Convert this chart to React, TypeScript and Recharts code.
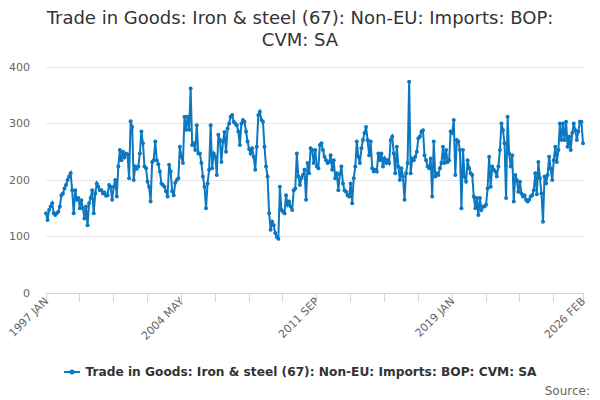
import { LineChart, Line, XAxis, YAxis, CartesianGrid } from "recharts";

const years = [
  1997, 1998, 1999, 2000, 2001, 2002, 2003, 2004, 2005, 2006, 2007, 2008, 2009, 2010, 2011,
  2012, 2013, 2014, 2015, 2016, 2017, 2018, 2019, 2020, 2021, 2022, 2023, 2024, 2025, 2026,
];
const months = ["JAN", "FEB", "MAR", "APR", "MAY", "JUN", "JUL", "AUG", "SEP", "OCT", "NOV", "DEC"];

// £ million, monthly, 1997 JAN .. 2026 FEB
const imports = [
  141, 129, 147, 153, 159, 141, 138, 141, 144, 153, 173, 176,
  185, 191, 200, 206, 212, 182, 141, 182, 165, 168, 150, 164,
  150, 132, 153, 120, 159, 168, 182, 141, 176, 194, 188, 182,
  182, 176, 178, 172, 173, 191, 188, 165, 188, 200, 171, 224,
  253, 235, 250, 240, 247, 245, 203, 304, 294, 200, 224, 220,
  224, 247, 286, 265, 224, 221, 197, 188, 162, 232, 235, 268,
  235, 228, 215, 194, 191, 188, 180, 171, 227, 215, 180, 173,
  195, 200, 203, 259, 241, 230, 312, 289, 312, 289, 362, 262,
  265, 253, 297, 247, 247, 230, 206, 188, 150, 194, 218, 297,
  221, 247, 241, 209, 280, 271, 232, 268, 285, 250, 291, 300,
  312, 315, 303, 300, 297, 286, 262, 300, 306, 303, 286, 268,
  255, 247, 256, 241, 218, 259, 315, 321, 306, 303, 259, 224,
  206, 141, 112, 126, 120, 106, 99, 96, 188, 147, 144, 141,
  173, 156, 162, 153, 147, 182, 185, 247, 206, 191, 203, 209,
  218, 165, 230, 212, 256, 253, 230, 253, 224, 221, 262, 265,
  253, 241, 235, 230, 232, 244, 218, 235, 203, 212, 182, 210,
  224, 194, 182, 179, 173, 171, 194, 159, 203, 224, 268, 241,
  230, 256, 271, 283, 294, 271, 244, 268, 221, 215, 218, 215,
  247, 235, 247, 224, 238, 230, 235, 230, 271, 277, 247, 212,
  259, 224, 200, 221, 206, 165, 212, 230, 374, 212, 238, 235,
  241, 250, 274, 277, 286, 288, 244, 235, 224, 221, 238, 171,
  268, 206, 212, 209, 221, 230, 259, 230, 253, 232, 235, 286,
  283, 306, 209, 271, 268, 253, 150, 253, 206, 197, 235, 221,
  212, 209, 171, 150, 168, 138, 168, 147, 153, 153, 156, 185,
  241, 188, 224, 218, 215, 206, 224, 253, 300, 288, 265, 168,
  312, 247, 224, 244, 162, 209, 200, 179, 197, 176, 171, 173,
  165, 162, 165, 171, 173, 182, 212, 175, 232, 203, 176, 126,
  206, 194, 209, 241, 220, 200, 235, 259, 232, 253, 300, 271,
  300, 271, 303, 259, 277, 253, 283, 300, 288, 271, 286, 303,
  303, 265,
];

const categories = years.flatMap((y) => months.map((m) => `${y} ${m}`)).slice(0, imports.length);

const xTicks = [0, 22, 44, 66, 88, 110, 132, 154, 176, 198, 220, 242, 264, 286, 308, 330, 349];
const labelTicks = [0, 88, 176, 264, 349];
const yTicks = [0, 100, 200, 300, 400];

const SERIES = "Trade in Goods: Iron & steel (67): Non-EU: Imports: BOP: CVM: SA";
const BLUE = "#0b78c0";
const AXIS = "#ccd6eb";
const FONT = "'DejaVu Sans', Verdana, sans-serif";

const data = imports.map((v, i) => ({ idx: i, label: categories[i], value: v }));

const XTick = ({ x, y, payload }: any) => {
  if (!labelTicks.includes(payload.value)) return <g />;
  const tx = x + 3;
  const ty = y - 2;
  return (
    <text
      x={tx}
      y={ty}
      transform={`rotate(-45 ${tx} ${ty})`}
      textAnchor="end"
      fontSize={11}
      fill="#666"
      fontFamily={FONT}
    >
      {categories[payload.value]}
    </text>
  );
};

const App = () => {
  return (
    <div style={{ position: "absolute", left: 0, top: 0, width: 600, height: 400, background: "#fff", fontFamily: FONT }}>
      <div
        style={{
          position: "absolute",
          top: 7,
          left: 0,
          width: 600,
          textAlign: "center",
          fontSize: 18,
          lineHeight: "22px",
          color: "#333",
        }}
      >
        Trade in Goods: Iron &amp; steel (67): Non-EU: Imports: BOP:
        <br />
        CVM: SA
      </div>
      <LineChart width={600} height={400} data={data} margin={{ top: 67, right: 17, bottom: 37, left: 0 }}>
        <CartesianGrid vertical={false} stroke="#e6e6e6" shapeRendering="crispEdges" />
        <XAxis
          type="number"
          dataKey="idx"
          domain={[0, 349]}
          ticks={xTicks}
          interval={0}
          height={70}
          axisLine={{ stroke: AXIS, shapeRendering: "crispEdges" }}
          tickLine={{ stroke: AXIS, strokeWidth: 1, shapeRendering: "crispEdges" }}
          tickSize={9}
          tickMargin={2}
          tick={<XTick />}
        />
        <YAxis
          domain={[0, 400]}
          ticks={yTicks}
          width={46}
          axisLine={false}
          tickLine={false}
          tickMargin={10}
          tick={{ fontSize: 11, fill: "#666", fontFamily: FONT }}
        />
        <Line
          type="linear"
          dataKey="value"
          name={SERIES}
          stroke={BLUE}
          strokeWidth={2}
          dot={{ r: 2, fill: BLUE, stroke: BLUE, strokeWidth: 0 }}
          activeDot={false}
          isAnimationActive={false}
        />
      </LineChart>
      <div
        style={{
          position: "absolute",
          top: 365,
          left: 0,
          width: 600,
          display: "flex",
          justifyContent: "center",
          alignItems: "center",
        }}
      >
        <svg width={18} height={10} style={{ marginRight: 4 }}>
          <line x1={1} y1={5} x2={17} y2={5} stroke={BLUE} strokeWidth={2} />
          <circle cx={9} cy={5} r={2.5} fill={BLUE} />
        </svg>
        <span style={{ fontSize: 12.2, fontWeight: "bold", color: "#333" }}>{SERIES}</span>
      </div>
      <div style={{ position: "absolute", right: 10, top: 384, fontSize: 12, color: "#666" }}>Source:</div>
    </div>
  );
};

export default App;
